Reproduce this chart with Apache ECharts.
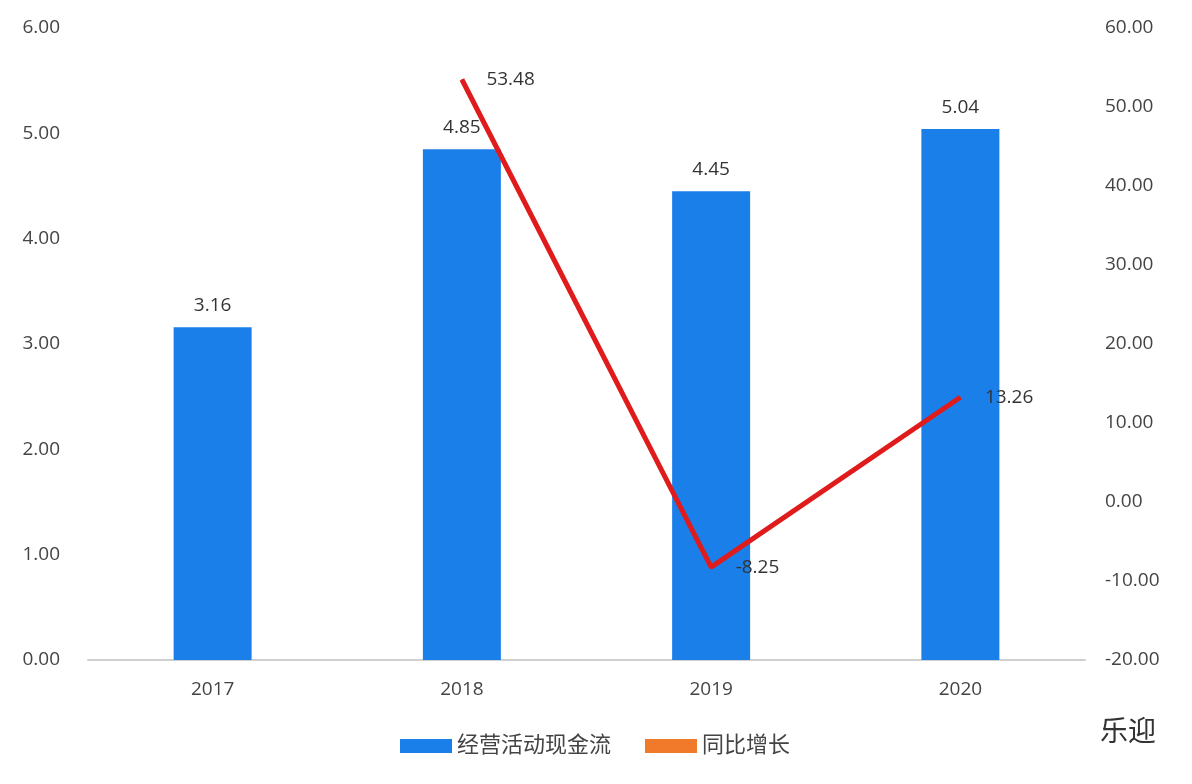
<!DOCTYPE html>
<html><head><meta charset="utf-8">
<script src="https://cdn.jsdelivr.net/npm/echarts@6/dist/echarts.min.js"></script>
<style>html,body{margin:0;background:#fff}#c{width:1192px;height:784px}</style>
</head><body><div id="c"></div>
<script>
const years = ["2017", "2018", "2019", "2020"];
const cashFlow = [3.16, 4.85, 4.45, 5.04];
const growth = [null, 53.48, -8.25, 13.26];

const font = "'Open Sans', 'Noto Sans CJK SC', sans-serif";
const chart = echarts.init(document.getElementById("c"));
chart.setOption({
    backgroundColor: "#fff",
    textStyle: { fontFamily: font },
    grid: { left: 88, right: 107, top: 28, bottom: 124 },
    legend: {
        bottom: 22, left: 395, itemGap: 34, itemWidth: 52, itemHeight: 14,
        textStyle: { fontSize: 22, color: "#444", fontFamily: font },
        data: [
            { name: "经营活动现金流", icon: "rect" },
            { name: "同比增长", icon: "rect", itemStyle: { color: "#f07a2a" } },
        ],
    },
    xAxis: {
        type: "category", data: years,
        axisTick: { show: false },
        axisLine: { lineStyle: { color: "#d0d0d0", width: 2 } },
        axisLabel: { fontSize: 19, color: "#444", margin: 20 },
    },
    yAxis: [
        {
            type: "value", min: 0, max: 6, interval: 1,
            splitLine: { show: false },
            axisLabel: { fontSize: 19, color: "#444", formatter: v => v.toFixed(2), margin: 28 },
        },
        {
            type: "value", min: -20, max: 60, interval: 10,
            splitLine: { show: false },
            axisLabel: { fontSize: 19, color: "#444", formatter: v => v.toFixed(2), margin: 20 },
        },
    ],
    series: [
        {
            name: "经营活动现金流", type: "bar", data: cashFlow, barWidth: 78,
            itemStyle: { color: "#1a7fe8" },
            label: { show: true, position: "top", fontSize: 19, color: "#333", distance: 12, formatter: p => p.value.toFixed(2) },
        },
        {
            name: "同比增长", type: "line", yAxisIndex: 1, data: growth,
            showSymbol: true, symbol: "circle", symbolSize: 1,
            lineStyle: { color: "#e01b1b", width: 5 },
            itemStyle: { color: "#e01b1b" },
            label: { show: true, position: "right", distance: 24, fontSize: 19, color: "#333", formatter: p => p.value.toFixed(2) },
        },
    ],
    graphic: [
        { type: "text", right: 36, bottom: 40, style: { text: "乐迎", fontSize: 28, fill: "#333", fontFamily: "'Noto Sans CJK SC'" } },
    ],
});
</script></body></html>
